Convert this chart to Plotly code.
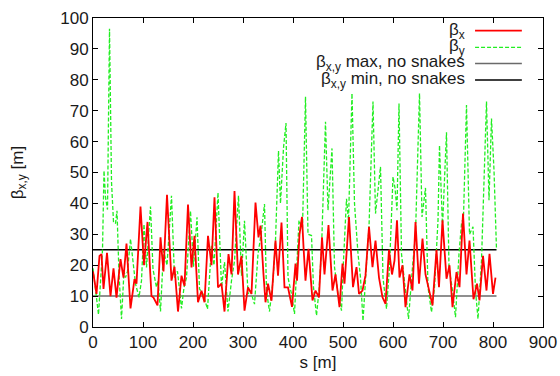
import plotly.graph_objects as go

# ---- data ----
s_betax = [0, 7, 13, 17, 21, 28, 35, 41, 47, 55, 61, 67, 75, 83, 87, 95, 102, 109, 117, 121,
           129, 135, 141, 148, 157, 163, 170, 177, 183, 190, 197, 203, 210, 217, 223, 230, 237,
           243, 250, 257, 263, 271, 277, 283, 290, 297, 303, 310, 317, 325, 331, 335, 341, 345,
           350, 357, 365, 370, 377, 383, 390, 398, 405, 408, 413, 418, 421, 425, 431, 439, 445,
           452, 458, 463, 471, 479, 485, 493, 499, 503, 512, 520, 527, 532, 539, 545, 552, 559,
           565, 572, 579, 585, 592, 598, 603, 608, 613, 619, 625, 633, 639, 645, 652, 659, 665,
           672, 679, 687, 692, 699, 707, 713, 719, 727, 733, 740, 747, 753, 761, 768, 773, 780,
           787, 793, 800, 805]
betax = [18, 10.7, 23, 23.6, 12.3, 24, 10, 19, 9.5, 22, 16, 27, 6, 15.5, 14, 39, 20, 34, 10, 9.5,
         7, 29, 18, 42.8, 15, 19.5, 5, 16.6, 13.3, 39.6, 19.3, 29.5, 8, 11.7, 8, 29.5, 20,
         42, 12.8, 14, 5, 23.6, 17, 44, 17, 23, 5.3, 12.8, 10.7, 40.3, 29, 32.8, 17, 8,
         14, 8.5, 28, 16.6, 33.8, 12.8, 12.8, 6.5, 20.5, 15, 30, 35.6, 26, 15, 25.3, 8.6, 11.8,
         9.6, 29, 17, 33, 11.8, 17, 6.4, 20.5, 14, 35.6, 12.9, 19.4, 10.7, 11.8, 16.7, 32.4, 19.4,
         28, 16, 9.6, 7.5, 25, 17, 21.5, 34.5, 16, 20, 6.4, 17, 11.8, 34, 14, 28.6, 17,
         11.8, 7, 25, 12.9, 34.5, 15.6, 20, 6.4, 17.8, 12.9, 36.7, 17, 28, 9, 14, 8.6, 23,
         11.8, 23.7, 10.7, 16]

s_betay = [0, 11, 19, 22, 25, 29, 33, 37, 41, 45, 48, 52, 57, 62, 65, 69, 75, 80, 85, 92, 97,
           102, 107, 115, 120, 127, 130, 135, 141, 148, 157, 163, 169, 177, 182, 187, 195, 201,
           208, 213, 220, 229, 237, 242, 250, 257, 263, 270, 277, 283, 291, 297, 303, 310, 315,
           323, 330, 337, 343, 347, 353, 360, 365, 371, 375, 381, 386, 390, 397, 403, 408, 412,
           419, 425, 430, 437, 441, 447, 452, 457, 465, 470, 478, 483, 490, 497, 501, 507, 511,
           518, 523, 530, 535, 540, 547, 552, 560, 565, 575, 580, 587, 593, 600, 604, 608, 612,
           617, 623, 631, 639, 645, 653, 658, 665, 670, 677, 683, 690, 693, 699, 707, 712, 719,
           725, 732, 737, 741, 747, 753, 760, 765, 770, 777, 781, 787, 792, 797, 802, 807]
betay = [19, 4, 25, 50.6, 42, 38, 96.5, 47, 34, 33.5, 37.6, 17, 2.6, 18, 16, 18, 28.5, 20, 14, 9.6, 15,
         33.3, 19.3, 39, 18.7, 12.8, 15, 5, 24.7, 20, 42.5, 16, 18, 6, 12.8, 16, 37.6, 19.5,
         35.5, 12.3, 10.7, 5.8, 26.3, 20, 43.5, 12.8, 21, 5, 15, 21.4, 42.5, 16.6, 34.4, 10.7, 11.7,
         7.4, 23.6, 31, 39.8, 11.7, 5, 15, 28, 57, 40, 58, 66, 16, 10.7, 4.2, 21.5, 34.5,
         32, 74.5, 30, 29.6, 12.9, 3.7, 11.8, 25, 66.4, 37.8, 57.8, 19.4, 10.7, 5.3, 21.5, 41.5, 34.5,
         75.6, 40, 23.7, 16, 2, 20.5, 32.4, 73, 36.7, 51.8, 16, 5.9, 19.4, 48.6, 45, 37.8, 72.3,
         23.7, 14, 2.6, 19.4, 30, 75.6, 35.6, 45, 12.9, 4.8, 12.9, 34.5, 58.8, 32.4, 63, 19.4, 11.8,
         3.2, 23.7, 33.4, 35.6, 71.8, 30, 32.4, 11.8, 2.6, 21.5, 42, 73, 41, 67.5, 50.7, 25]

s_ref = [0, 807]
beta_max_ref = 25
beta_min_ref = 10

legend_labels = ["β<sub>x</sub>", "β<sub>y</sub>",
                 "β<sub>x,y</sub> max, no snakes", "β<sub>x,y</sub> min, no snakes"]

x_ticks = list(range(0, 901, 100))
y_ticks = list(range(0, 101, 10))

FONT = "Liberation Sans, Arial, Helvetica, sans-serif"
FS = 17
TXT = "#1a1a1a"
RED = "#ff0000"
GREEN = "#22ee22"
GRAY = "#6a6a6a"
BLACK = "#000000"

fig = go.Figure()
fig.add_trace(go.Scatter(x=s_ref, y=[beta_min_ref] * 2, mode="lines",
                         line=dict(color=GRAY, width=1.5), showlegend=False))
fig.add_trace(go.Scatter(x=s_ref, y=[beta_max_ref] * 2, mode="lines",
                         line=dict(color=BLACK, width=1.5), showlegend=False))
fig.add_trace(go.Scatter(x=s_betay, y=betay, mode="lines",
                         line=dict(color=GREEN, width=1.3, dash="4px,2px"), showlegend=False))
fig.add_trace(go.Scatter(x=s_betax, y=betax, mode="lines",
                         line=dict(color=RED, width=1.8), showlegend=False))

# manual legend (text right-aligned, sample on the right, gnuplot style)
leg_y = [0.959, 0.905, 0.853, 0.799]
leg_styles = [dict(color=RED, width=1.8), dict(color=GREEN, width=1.3, dash="4px,2px"),
              dict(color=GRAY, width=1.5), dict(color=BLACK, width=1.5)]
for lbl, yy, st in zip(legend_labels, leg_y, leg_styles):
    fig.add_annotation(x=0.829, y=yy, xref="paper", yref="paper", text=lbl, showarrow=False,
                       xanchor="right", yanchor="middle", borderpad=0,
                       font=dict(family=FONT, size=FS, color=TXT))
    fig.add_shape(type="line", xref="paper", yref="paper", x0=0.849, x1=0.953, y0=yy, y1=yy,
                  line=st)

axis_common = dict(showgrid=False, zeroline=False, showline=True, linecolor="black", linewidth=1,
                   mirror="allticks", ticks="inside", ticklen=5, tickcolor="black",
                   automargin=False,
                   tickfont=dict(family=FONT, size=FS, color=TXT))
fig.update_xaxes(range=[0, 900], tickvals=x_ticks, title=dict(text="s [m]", standoff=4,
                 font=dict(family=FONT, size=FS, color=TXT)), **axis_common)
fig.update_yaxes(range=[0, 100], tickvals=y_ticks, title=dict(text="β<sub>x,y</sub> [m]", standoff=32,
                 font=dict(family=FONT, size=FS, color=TXT)), **axis_common)

fig.update_layout(width=560, height=376, margin=dict(l=93, r=17, t=18, b=49, autoexpand=False),
                  paper_bgcolor="white", plot_bgcolor="white", showlegend=False,
                  font=dict(family=FONT, size=FS))
fig.write_html("out.html", config={"displayModeBar": False},
               post_script="document.body.style.margin='0';")
